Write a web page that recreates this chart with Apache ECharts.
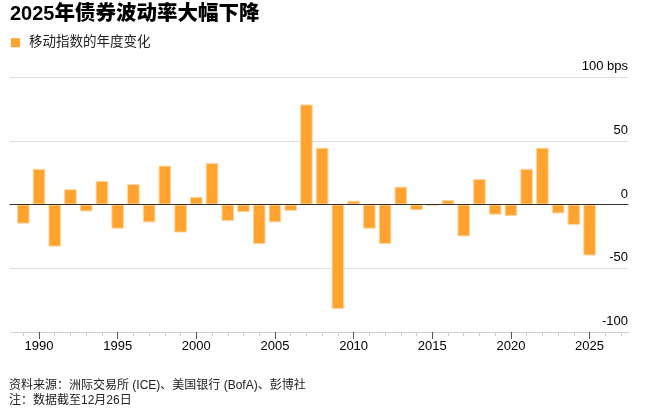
<!DOCTYPE html>
<html>
<head>
<meta charset="utf-8">
<script src="https://cdn.jsdelivr.net/npm/echarts@6/dist/echarts.min.js"></script>
<style>
  html, body { margin: 0; padding: 0; background: #fff; }
  #main { width: 647px; height: 408px; }
</style>
</head>
<body>
<div id="main"></div>
<script>
// 年份 & 移动指数年度变化 (bps)
var years = ['1989','1990','1991','1992','1993','1994','1995','1996','1997','1998',
             '1999','2000','2001','2002','2003','2004','2005','2006','2007','2008',
             '2009','2010','2011','2012','2013','2014','2015','2016','2017','2018',
             '2019','2020','2021','2022','2023','2024','2025'];
var changes = [-15, 28, -33, 12, -5.5, 18.5, -19, 16, -14, 30.5,
               -22, 6, 32.5, -13, -6, -31, -14, -5, 78.5, 44.5,
               -82, 3, -19, -31, 14, -4.5, -1, 3.5, -25, 20,
               -8, -9, 28, 44.5, -7, -16, -40];
var yTicks = [-100, -50, 0, 50, 100];
var seriesName = '移动指数的年度变化';

// 右侧留出两个空年份
var cats = years.concat(['2026', '2027']);

var font = "'Liberation Sans', 'Noto Sans CJK SC', sans-serif";
var myChart = echarts.init(document.getElementById('main'));

var option = {
    animation: false,
    textStyle: { fontFamily: font },
    title: [{
        text: '{d|2025}{c|年债券波动率大幅下降}',
        left: 10,
        top: 4,
        padding: 0,
        textStyle: {
            rich: {
                d: { fontSize: 20, fontWeight: 'bold', color: '#000', fontFamily: font },
                c: { fontSize: 20.5, fontWeight: 900, color: '#000', fontFamily: font }
            }
        }
    }, {
        text: '资料来源：洲际交易所 (ICE)、美国银行 (BofA)、彭博社\n注：数据截至12月26日',
        left: 9,
        top: 378,
        padding: 0,
        textStyle: { fontSize: 12, fontWeight: 'normal', color: '#222', lineHeight: 15 }
    }],
    legend: {
        left: 11,
        top: 36,
        padding: 0,
        itemWidth: 9,
        itemHeight: 9,
        icon: 'rect',
        data: [seriesName],
        itemStyle: { borderWidth: 0 },
        textStyle: { fontSize: 13.5, color: '#222', padding: [0, 0, 0, 4] }
    },
    grid: [
        { left: 10, right: 19, top: 77, bottom: 76 },
        { left: 15.4, right: 18.1, top: 77, bottom: 76 }
    ],
    xAxis: [{
        // 零线
        gridIndex: 0, type: 'value', min: 0, max: 1, z: 10,
        axisLine: { show: true, onZero: true, lineStyle: { color: '#333', width: 1 } },
        axisTick: { show: false }, axisLabel: { show: false }, splitLine: { show: false }
    }, {
        gridIndex: 1, type: 'category', data: cats, position: 'bottom',
        axisLine: { show: true, onZero: false, lineStyle: { color: '#ccc' } },
        axisTick: { show: true, alignWithLabel: true, interval: 0, length: 4, lineStyle: { color: '#ccc' } },
        axisLabel: { show: false }
    }, {
        gridIndex: 1, type: 'category', data: cats, position: 'bottom', offset: 0,
        axisLine: { show: false, onZero: false },
        axisTick: {
            show: true, alignWithLabel: true, length: 7,
            lineStyle: { color: '#555' },
            interval: function (i, v) { return +v % 5 === 0; }
        },
        axisLabel: {
            fontSize: 13, color: '#000', margin: 8,
            interval: function (i, v) { return +v % 5 === 0; }
        }
    }],
    yAxis: [{
        gridIndex: 0, type: 'value', position: 'right',
        min: -100, max: 100, interval: 50,
        axisLine: { show: false }, axisTick: { show: false },
        splitLine: { lineStyle: { color: '#ddd', width: 1 } },
        axisLabel: {
            inside: true, margin: 0, fontSize: 13, color: '#000',
            verticalAlign: 'bottom', padding: [0, 0, 4, 0],
            customValues: yTicks,
            formatter: function (v) { return v === 100 ? '100 bps' : String(v); }
        }
    }, {
        gridIndex: 1, type: 'value', min: -100, max: 100, interval: 50,
        show: false
    }],
    series: [{
        name: seriesName,
        type: 'bar',
        xAxisIndex: 1,
        yAxisIndex: 1,
        data: changes,
        barWidth: '80%',
        itemStyle: { color: '#ffa22e', borderColor: '#ffd7a3', borderWidth: 1 }
    }]
};

myChart.setOption(option);
</script>
</body>
</html>
